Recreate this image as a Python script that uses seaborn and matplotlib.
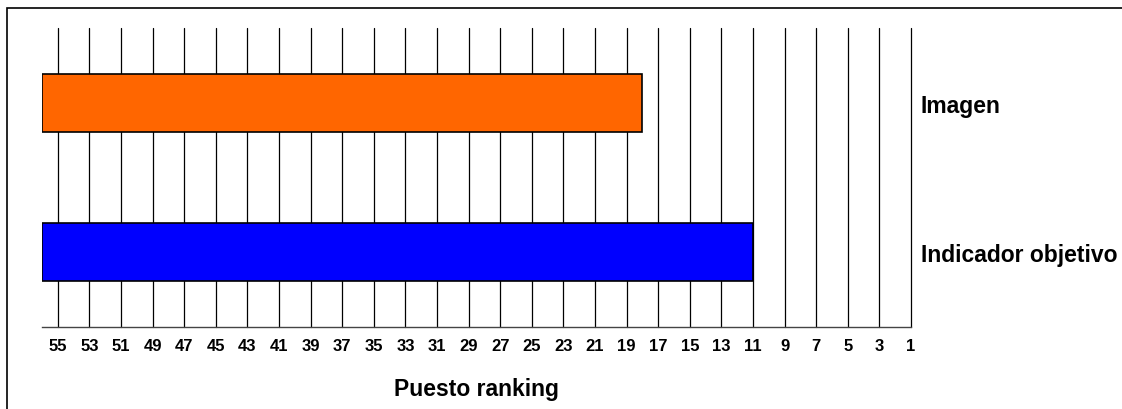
import matplotlib
matplotlib.use("Agg")
import matplotlib.pyplot as plt
import seaborn as sns
import pandas as pd
from matplotlib.patches import Rectangle

# ---- data ----
categories = ["Imagen", "Indicador objetivo"]
ranks = [18, 11]                      # puesto en el ranking (1 = mejor)
worst_rank = 56                       # extremo izquierdo del eje
tick_ranks = list(range(55, 0, -2))   # 55, 53, ..., 1
bar_colors = ["#FF6600", "#0000FF"]

sns.set_style("white")
plt.rcParams["font.family"] = ["Liberation Sans", "DejaVu Sans"]
plt.rcParams["text.color"] = "black"
plt.rcParams["xtick.color"] = "black"
plt.rcParams["ytick.color"] = "black"
plt.rcParams["axes.labelcolor"] = "black"

# bars grow from the worst rank (left) toward the achieved rank (right)
df = pd.DataFrame({
    "categoria": categories,
    "longitud": [worst_rank - r for r in ranks],
})

fig = plt.figure(figsize=(11.22, 4.10), dpi=100)
W, H = 1122, 410
ax = fig.add_axes([42 / W, 1 - 328 / H, (911 - 42) / W, (328 - 29) / H])

sns.barplot(data=df, x="longitud", y="categoria", hue="categoria",
            palette=bar_colors, orient="h", width=0.39, saturation=1,
            edgecolor="black", linewidth=1.2, legend=False, ax=ax, zorder=3)

ax.set_xlim(0, worst_rank - 1)
ax.set_ylim(1.5, -0.5)
ax.set_xticks([worst_rank - t for t in tick_ranks])
ax.set_xticklabels([str(t) for t in tick_ranks], fontsize=12, fontweight="bold")
ax.xaxis.grid(True, color="black", linewidth=0.9, zorder=0)
for gl in ax.get_xgridlines():
    gl.set_clip_on(False)
ax.set_axisbelow(True)
ax.tick_params(axis="x", length=5, width=0.9, color="black", pad=3, direction="out")

ax.yaxis.tick_right()
ax.tick_params(axis="y", length=0, pad=7)
for lbl in ax.get_yticklabels():
    lbl.set_fontsize(16.5)
    lbl.set_fontweight("bold")
    lbl.set_horizontalalignment("left")
ax.set_ylabel("")
ax.set_xlabel("Puesto ranking", fontsize=16.5, fontweight="bold", labelpad=17)

for s in ["left", "top", "right"]:
    ax.spines[s].set_visible(False)
ax.spines["bottom"].set_color("#444444")
ax.spines["bottom"].set_linewidth(1.0)

# outer chart frame (partly cut by the image edges)
fig.patches.append(Rectangle((7 / W, -0.2), 1.2, 1 - 9 / H + 0.2,
                             transform=fig.transFigure, fill=False,
                             edgecolor="black", linewidth=1.2))

fig.savefig("out.png", dpi=100, facecolor="white")
